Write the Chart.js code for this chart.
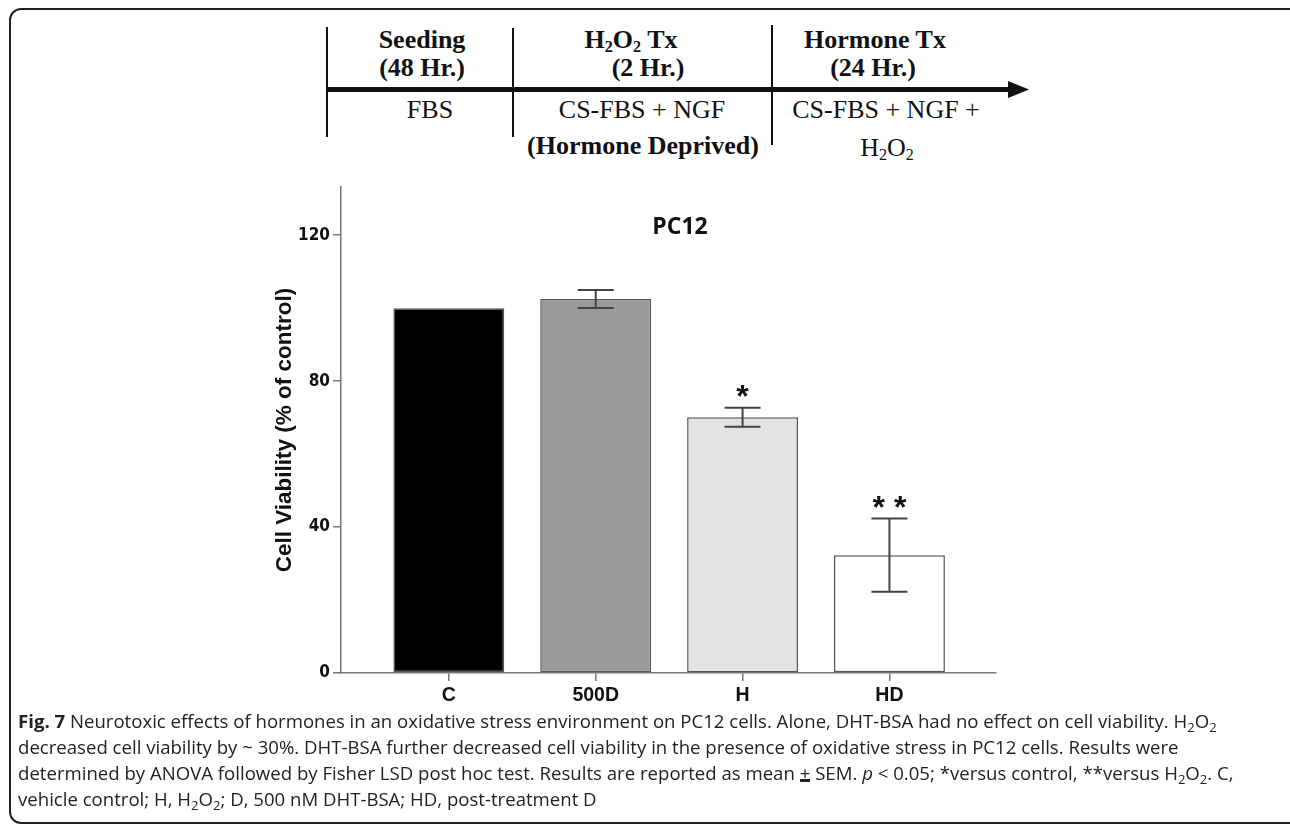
<!DOCTYPE html>
<html>
<head>
<meta charset="utf-8">
<script src="https://cdn.jsdelivr.net/npm/chart.js@4.4.1/dist/chart.umd.min.js"></script>
<style>
  html, body { margin:0; padding:0; background:#fff; }
  body { width:1290px; height:827px; position:relative; overflow:hidden; }
  #frame { position:absolute; left:9px; top:8px; width:1300px; height:816px; border:2px solid #222; border-radius:12px; box-sizing:border-box; }
  #c { position:absolute; left:0; top:0; }
  .tl { position:absolute; white-space:nowrap; font-family:'Liberation Serif','Times New Roman',serif; font-size:26px; line-height:26px; color:#111; transform:translateX(-50%); }
  .tl.b { font-weight:bold; }
  .tl sub { font-size:0.62em; vertical-align:-0.25em; line-height:0; }
  .vl { position:absolute; width:2px; background:#111; }
  #title { position:absolute; left:680px; top:214px; transform:translateX(-50%); font-family:'Open Sans',sans-serif; font-weight:bold; font-size:23px; line-height:23px; color:#111; }
  .cap { position:absolute; left:18px; white-space:nowrap; font-family:'Open Sans',sans-serif; font-size:18.6px; line-height:18.6px; color:#222; }
  .cap sub { font-size:0.7em; vertical-align:-0.3em; line-height:0; }
  .pm { display:inline-block; border-bottom:3px solid #222; line-height:13px; }
</style>
</head>
<body>
<div id="frame"></div>

<!-- timeline -->
<div class="vl" style="left:326px;top:27px;height:110px;"></div>
<div class="vl" style="left:512px;top:28px;height:109px;"></div>
<div class="vl" style="left:771px;top:25px;height:120px;"></div>
<svg style="position:absolute;left:0;top:0;" width="1290" height="200">
  <line x1="327" y1="89.5" x2="1012" y2="89.5" stroke="#111" stroke-width="5"/>
  <polygon points="1008,81 1029,89.5 1008,98" fill="#111"/>
</svg>
<div class="tl b" style="left:422px;top:27px;">Seeding</div>
<div class="tl b" style="left:422px;top:55px;">(48 Hr.)</div>
<div class="tl b" style="left:631px;top:27px;">H<sub>2</sub>O<sub>2</sub> Tx</div>
<div class="tl b" style="left:648px;top:55px;">(2 Hr.)</div>
<div class="tl b" style="left:875px;top:27px;">Hormone Tx</div>
<div class="tl b" style="left:873px;top:55px;">(24 Hr.)</div>
<div class="tl" style="left:430px;top:97px;">FBS</div>
<div class="tl" style="left:642px;top:97px;">CS-FBS + NGF</div>
<div class="tl b" style="left:643px;top:133px;">(Hormone Deprived)</div>
<div class="tl" style="left:886px;top:97px;">CS-FBS + NGF +</div>
<div class="tl" style="left:887px;top:135px;">H<sub>2</sub>O<sub>2</sub></div>

<canvas id="c" width="1290" height="827"></canvas>
<div id="title">PC12</div>

<div class="cap" style="top:712px;"><b>Fig. 7</b> Neurotoxic effects of hormones in an oxidative stress environment on PC12 cells. Alone, DHT-BSA had no effect on cell viability. H<sub>2</sub>O<sub>2</sub></div>
<div class="cap" style="top:738px;">decreased cell viability by ~ 30%. DHT-BSA further decreased cell viability in the presence of oxidative stress in PC12 cells. Results were</div>
<div class="cap" style="top:764px;">determined by ANOVA followed by Fisher LSD post hoc test. Results are reported as mean <span class="pm">+</span> SEM. <i>p</i> &lt; 0.05; *versus control, **versus H<sub>2</sub>O<sub>2</sub>. C,</div>
<div class="cap" style="top:790px;">vehicle control; H, H<sub>2</sub>O<sub>2</sub>; D, 500 nM DHT-BSA; HD, post-treatment D</div>

<script>
// ---- data ----
const categories = ['C', '500D', 'H', 'HD'];
const viability = [100, 102.5, 70.1, 32.3];
const sem = [0, 2.45, 2.6, 10.05];
const significance = ['', '', '*', '* *'];
const yTicks = [0, 40, 80, 120];
const yMax = 133.2;

// ---- styles ----
const barFills = ['#000000', '#9a9a9a', '#e3e3e3', '#ffffff'];
const axisGray = '#777777';

const errorBarPlugin = {
  id: 'errorBars',
  afterDatasetsDraw(chart) {
    const { ctx, scales: { x, y } } = chart;
    ctx.save();
    ctx.strokeStyle = '#444';
    ctx.lineWidth = 2;
    categories.forEach((c, i) => {
      const px = x.getPixelForValue(i + 1);
      const top = y.getPixelForValue(viability[i] + sem[i]);
      const bot = y.getPixelForValue(viability[i] - sem[i]);
      if (sem[i] > 0) {
        ctx.beginPath();
        ctx.moveTo(px, top); ctx.lineTo(px, bot);
        ctx.moveTo(px - 18, top); ctx.lineTo(px + 18, top);
        ctx.moveTo(px - 18, bot); ctx.lineTo(px + 18, bot);
        ctx.stroke();
      }
      if (significance[i]) {
        ctx.fillStyle = '#111';
        ctx.font = 'bold 32px "Liberation Sans", Arial, sans-serif';
        ctx.textAlign = 'center';
        ctx.textBaseline = 'alphabetic';
        ctx.fillText(significance[i], px, top - 0.5);
      }
    });
    ctx.restore();
  }
};

new Chart(document.getElementById('c'), {
  type: 'bar',
  data: {
    datasets: [{
      data: categories.map((c, i) => ({ x: i + 1, y: viability[i] })),
      backgroundColor: barFills,
      borderColor: '#555',
      borderWidth: 1.5,
      borderSkipped: false,
      categoryPercentage: 1,
      barPercentage: 0.755
    }]
  },
  options: {
    responsive: false,
    animation: false,
    events: [],
    layout: { padding: { left: 261, top: 187, right: 294.5, bottom: 104 } },
    plugins: { legend: { display: false }, tooltip: { enabled: false }, title: { display: false } },
    scales: {
      x: {
        type: 'linear',
        min: 0.266,
        max: 4.722,
        offset: false,
        afterBuildTicks: (s) => { s.ticks = categories.map((c, i) => ({ value: i + 1 })); },
        afterFit: (s) => { s.height = 50; },
        grid: { offset: false, drawOnChartArea: false, drawTicks: true, tickLength: 8, color: axisGray, lineWidth: 1.5 },
        border: { display: true, color: axisGray, width: 1.5 },
        ticks: {
          padding: 3,
          autoSkip: false,
          maxRotation: 0,
          color: '#111',
          font: { family: '"Liberation Sans", Arial, sans-serif', weight: 'bold', size: 19.5 },
          callback: (v) => categories[Math.round(v) - 1] || ''
        }
      },
      y: {
        min: 0,
        max: yMax,
        afterBuildTicks: (s) => { s.ticks = yTicks.map(v => ({ value: v })); },
        afterFit: (s) => { s.width = 80; },
        grid: { drawOnChartArea: false, drawTicks: true, tickLength: 8, color: axisGray, lineWidth: 1.5 },
        border: { display: true, color: axisGray, width: 1.5 },
        ticks: {
          padding: 3,
          color: '#111',
          font: { family: '"Liberation Sans Narrow", "DejaVu Sans Condensed", sans-serif', weight: 'bold', size: 17 }
        },
        title: {
          display: true,
          text: 'Cell Viability (% of control)',
          color: '#111',
          padding: { top: 10, bottom: 0 },
          font: { family: '"Liberation Sans", Arial, sans-serif', weight: 'bold', size: 22.5 }
        }
      }
    }
  },
  plugins: [errorBarPlugin]
});
</script>
</body>
</html>
